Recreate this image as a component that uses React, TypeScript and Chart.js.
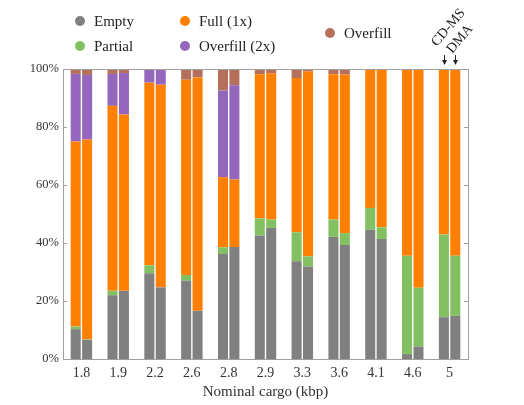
import React, { useEffect, useRef } from "react";
import { Chart, registerables } from "chart.js";

Chart.register(...registerables);

const categories = ["1.8", "1.9", "2.2", "2.6", "2.8", "2.9", "3.3", "3.6", "4.1", "4.6", "5"];
const yTicks = [0, 20, 40, 60, 80, 100];

// CD-MS (left bar of each pair), values in %
const cdmsEmpty = [10.3, 22.0, 29.6, 27.0, 36.2, 42.6, 33.7, 42.1, 44.6, 1.7, 14.4];
const cdmsPartial = [0.9, 1.5, 2.7, 2.0, 2.3, 5.9, 10.0, 6.0, 7.5, 33.9, 28.5];
const cdmsFull = [63.8, 63.8, 63.0, 67.3, 24.2, 49.7, 53.2, 50.1, 47.9, 64.4, 57.1];
const cdmsOver2x = [23.3, 11.0, 4.7, 0, 29.9, 0, 0, 0, 0, 0, 0];
const cdmsOverfill = [1.7, 1.7, 0, 3.7, 7.4, 1.8, 3.1, 1.8, 0, 0, 0];

// DMA (right bar of each pair), values in %
const dmaEmpty = [6.6, 23.5, 24.7, 16.6, 38.6, 45.2, 31.9, 39.3, 41.4, 4.3, 14.9];
const dmaPartial = [0.2, 0, 0, 0, 0, 2.9, 3.5, 4.1, 4.0, 20.3, 20.7];
const dmaFull = [68.9, 60.8, 69.9, 80.5, 23.3, 50.4, 63.7, 54.7, 54.4, 75.4, 64.4];
const dmaOver2x = [22.2, 14.3, 5.4, 0, 32.5, 0, 0, 0, 0, 0, 0];
const dmaOverfill = [2.1, 1.4, 0, 2.9, 5.6, 1.5, 0.9, 1.9, 0.2, 0, 0];

const seriesNames = ["Empty", "Partial", "Full (1x)", "Overfill (2x)", "Overfill"];
const seriesColors = ["#808080", "#82c062", "#ff7f00", "#9467bd", "#b5705c"];
const stackNames = ["CD-MS", "DMA"];

const FONT = "'Liberation Serif', 'Times New Roman', serif";
const TEXT = "#333333";
const FRAME = "#a0a0a0";

const cdmsSeries = [cdmsEmpty, cdmsPartial, cdmsFull, cdmsOver2x, cdmsOverfill];
const dmaSeries = [dmaEmpty, dmaPartial, dmaFull, dmaOver2x, dmaOverfill];

// legend layout: [series index, circle x, circle y]
const legendLayout: [number, number, number][] = [
  [0, 80, 21],
  [2, 185, 21],
  [4, 330, 33],
  [1, 80, 46],
  [3, 185, 46],
];

const framePlugin = {
  id: "frame",
  afterDraw(chart: any) {
    const { ctx, chartArea } = chart;
    const y = chart.scales.y;
    ctx.save();
    ctx.strokeStyle = FRAME;
    ctx.lineWidth = 1;
    ctx.strokeRect(
      Math.round(chartArea.left) + 0.5,
      Math.round(chartArea.top) + 0.5,
      Math.round(chartArea.right - chartArea.left),
      Math.round(chartArea.bottom - chartArea.top)
    );
    ctx.beginPath();
    for (const v of yTicks) {
      const py = Math.round(y.getPixelForValue(v)) + 0.5;
      ctx.moveTo(chartArea.left, py);
      ctx.lineTo(chartArea.left + 4, py);
      ctx.moveTo(chartArea.right - 4, py);
      ctx.lineTo(chartArea.right, py);
    }
    ctx.stroke();

    // legend
    ctx.font = `15px ${FONT}`;
    ctx.textBaseline = "middle";
    ctx.textAlign = "left";
    for (const [i, cx, cy] of legendLayout) {
      ctx.beginPath();
      ctx.fillStyle = seriesColors[i];
      ctx.arc(cx, cy, 5, 0, Math.PI * 2);
      ctx.fill();
      ctx.fillStyle = "#222";
      ctx.fillText(seriesNames[i], cx + 14, cy + 1);
    }

    // CD-MS / DMA annotations over last category
    const last = categories.length - 1;
    const xs = [0, 5].map((di) => chart.getDatasetMeta(di).data[last].x);
    const origins = [
      [-7, 47],
      [-3, 54],
    ];
    ctx.strokeStyle = "#222";
    ctx.fillStyle = "#222";
    ctx.lineWidth = 1;
    xs.forEach((x, k) => {
      const ax = Math.round(x) + 0.5;
      ctx.beginPath();
      ctx.moveTo(ax, 55);
      ctx.lineTo(ax, 62);
      ctx.stroke();
      ctx.beginPath();
      ctx.moveTo(ax - 2.5, 60);
      ctx.lineTo(ax + 2.5, 60);
      ctx.lineTo(ax, 65);
      ctx.closePath();
      ctx.fill();
      ctx.save();
      ctx.translate(x + origins[k][0], origins[k][1]);
      ctx.rotate((-50 * Math.PI) / 180);
      ctx.font = `14px ${FONT}`;
      ctx.textBaseline = "alphabetic";
      ctx.textAlign = "left";
      ctx.fillText(stackNames[k], 0, 0);
      ctx.restore();
    });
    ctx.restore();
  },
};

export default function App() {
  const ref = useRef<HTMLCanvasElement>(null);
  useEffect(() => {
    document.body.style.margin = "0";
    const datasets: any[] = [];
    [cdmsSeries, dmaSeries].forEach((group, g) => {
      group.forEach((data, i) => {
        datasets.push({
          label: `${seriesNames[i]} ${stackNames[g]}`,
          data,
          backgroundColor: seriesColors[i],
          borderWidth: 0,
          stack: stackNames[g],
          categoryPercentage: 0.62,
          barPercentage: 0.88,
        });
      });
    });
    const chart = new Chart(ref.current as HTMLCanvasElement, {
      type: "bar",
      data: { labels: categories, datasets },
      options: {
        responsive: false,
        animation: false,
        layout: { padding: { top: 69, right: 56, left: 0, bottom: 0 } },
        plugins: { legend: { display: false }, tooltip: { enabled: false } },
        scales: {
          x: {
            stacked: true,
            grid: { display: false, drawTicks: false },
            border: { display: false },
            ticks: {
              font: { family: FONT, size: 14 },
              color: TEXT,
              padding: 6,
              maxRotation: 0,
              autoSkip: false,
            },
            title: {
              display: true,
              text: "Nominal cargo (kbp)",
              font: { family: FONT, size: 15 },
              color: TEXT,
              padding: { top: 2, bottom: 4 },
            },
            afterFit: (s: any) => {
              s.height = 46;
            },
          },
          y: {
            stacked: true,
            min: 0,
            max: 100,
            grid: { display: false, drawTicks: false },
            border: { display: false },
            ticks: {
              stepSize: 20,
              callback: (v: any) => `${v}%`,
              font: { family: FONT, size: 12.5 },
              color: TEXT,
              padding: 4,
            },
            afterFit: (s: any) => {
              s.width = 63;
            },
          },
        },
      },
      plugins: [framePlugin],
    });
    return () => chart.destroy();
  }, []);
  return (
    <div style={{ width: 524, height: 405 }}>
      <canvas ref={ref} width={524} height={405} />
    </div>
  );
}
